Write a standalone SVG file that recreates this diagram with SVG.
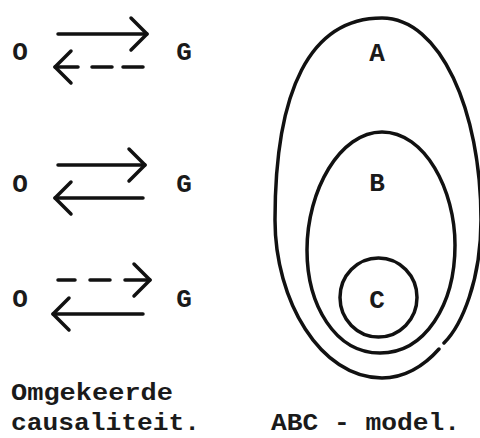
<svg xmlns="http://www.w3.org/2000/svg" width="480" height="438" viewBox="0 0 480 438">
  <style>
    .t { font-family: "Liberation Mono", "DejaVu Sans Mono", monospace; font-size: 26px; font-weight: bold; fill: #1a1a1a; }
    .cap { font-size: 24px; }
    .c { text-anchor: middle; }
    .ln { fill: none; stroke: #111; stroke-width: 3.5; stroke-linecap: round; stroke-linejoin: round; }
  </style>
  <defs>
    <marker id="head" markerUnits="userSpaceOnUse" viewBox="0 0 20 36" refX="18" refY="18" markerWidth="20" markerHeight="36" orient="auto" overflow="visible">
      <path d="M2,2 L18,18 L2,34" fill="none" stroke="#111" stroke-width="3.5" stroke-linecap="round" stroke-linejoin="round"/>
    </marker>
  </defs>
  <rect width="480" height="438" fill="#fff"/>

  <g id="connectors">
    <path class="ln" d="M58,34 H147" marker-end="url(#head)"/>
    <path class="ln" d="M143,67 H123 M112,67 H92 M78,67 H55" marker-end="url(#head)"/>
    <path class="ln" d="M58,165 H145" marker-end="url(#head)"/>
    <path class="ln" d="M143,198 H55" marker-end="url(#head)"/>
    <path class="ln" d="M58,280 H75 M90,280 H110 M125,280 H150" marker-end="url(#head)"/>
    <path class="ln" d="M143,314 H53" marker-end="url(#head)"/>
  </g>

  <g id="O1"><text class="t c" x="20" y="60">O</text></g>
  <g id="G1"><text class="t c" x="184" y="60">G</text></g>
  <g id="O2"><text class="t c" x="20" y="192">O</text></g>
  <g id="G2"><text class="t c" x="184" y="192">G</text></g>
  <g id="O3"><text class="t c" x="20" y="307">O</text></g>
  <g id="G3"><text class="t c" x="184" y="307">G</text></g>

  <g id="A">
    <path class="ln" d="M439,349 C424,366 404,378 382,378 C320,378 275,300 275,220 C275,90 310,18 382,18 C440,18 481,110 481,220 C481,280 462,325 444,343"/>
    <text class="t c" x="377" y="61">A</text>
  </g>
  <g id="B">
    <path class="ln" d="M382,132 C425,132 455,190 455,245 C455,305 425,353 380,353 C335,353 307,305 307,250 C307,190 340,132 382,132 Z"/>
    <text class="t c" x="377" y="191">B</text>
  </g>
  <g id="C">
    <ellipse class="ln" cx="378.5" cy="297.5" rx="38.5" ry="39.5"/>
    <text class="t c" x="377" y="308">C</text>
  </g>

  <g id="caption-left">
    <text class="t cap" x="11" y="400" textLength="162" lengthAdjust="spacingAndGlyphs">Omgekeerde</text>
    <text class="t cap" x="11" y="430" textLength="189" lengthAdjust="spacingAndGlyphs">causaliteit.</text>
  </g>
  <g id="caption-right">
    <text class="t cap" x="271" y="430" textLength="189" lengthAdjust="spacingAndGlyphs">ABC - model.</text>
  </g>
</svg>
